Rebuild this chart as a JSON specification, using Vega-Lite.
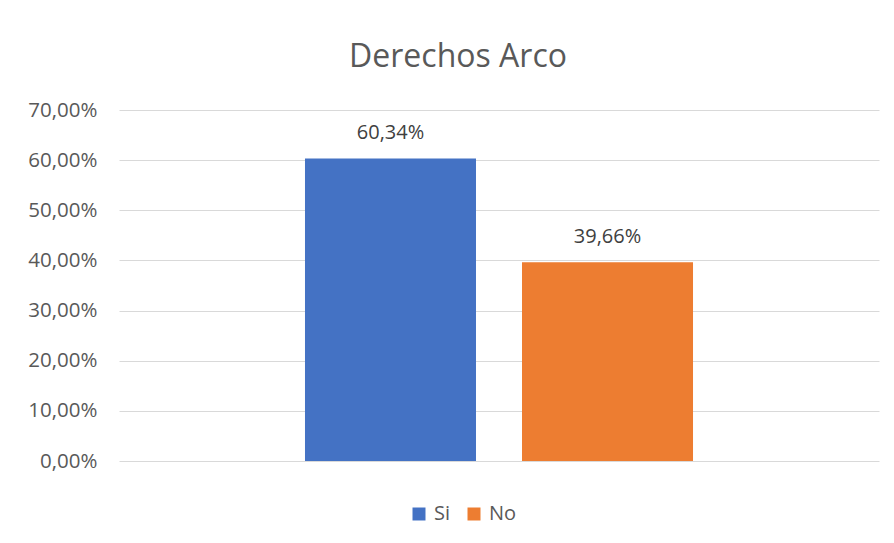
{
  "$schema": "https://vega.github.io/schema/vega-lite/v6.json",
  "width": 760,
  "height": 351,
  "autosize": {"type": "none"},
  "padding": {"left": 119, "top": 110, "right": 15, "bottom": 82},
  "background": "white",
  "config": {
    "locale": {"number": {"decimal": ",", "thousands": ".", "grouping": [3], "currency": ["", " €"]}},
    "view": {"stroke": null},
    "font": "Open Sans"
  },
  "title": {
    "text": "Derechos Arco",
    "fontSize": 32,
    "fontWeight": "normal",
    "color": "#595959",
    "font": "Open Sans",
    "anchor": "middle",
    "dx": -41,
    "offset": 26
  },
  "data": {
    "values": [
      {"respuesta": "Si", "valor": 0.6034},
      {"respuesta": "No", "valor": 0.3966}
    ]
  },
  "encoding": {
    "x": {
      "field": "respuesta",
      "type": "nominal",
      "sort": ["Si", "No"],
      "scale": {"paddingInner": 0.212, "paddingOuter": 0.857},
      "axis": null
    },
    "y": {
      "field": "valor",
      "type": "quantitative",
      "scale": {"domain": [0, 0.7]},
      "axis": {
        "title": null,
        "format": ".2%",
        "values": [0, 0.1, 0.2, 0.3, 0.4, 0.5, 0.6, 0.7],
        "domain": false,
        "ticks": false,
        "labelPadding": 22,
        "labelFontSize": 20.5,
        "labelColor": "#595959",
        "labelFont": "Open Sans",
        "gridColor": "#d9d9d9",
        "gridWidth": 1
      }
    }
  },
  "layer": [
    {
      "mark": {"type": "bar"},
      "encoding": {
        "color": {
          "field": "respuesta",
          "type": "nominal",
          "sort": ["Si", "No"],
          "scale": {"domain": ["Si", "No"], "range": ["#4472c4", "#ed7d31"]},
          "legend": {
            "title": null,
            "orient": "none",
            "direction": "horizontal",
            "legendX": 290,
            "legendY": 394,
            "symbolType": "square",
            "symbolSize": 169,
            "symbolStrokeWidth": 0,
            "labelFontSize": 20,
            "labelColor": "#595959",
            "labelFont": "Open Sans",
            "labelOffset": 5,
            "columnPadding": 13
          }
        }
      }
    },
    {
      "mark": {"type": "text", "baseline": "alphabetic", "dy": -19, "fontSize": 20, "color": "#404040", "font": "Open Sans"},
      "encoding": {
        "text": {"field": "valor", "type": "quantitative", "format": ".2%"}
      }
    }
  ]
}
